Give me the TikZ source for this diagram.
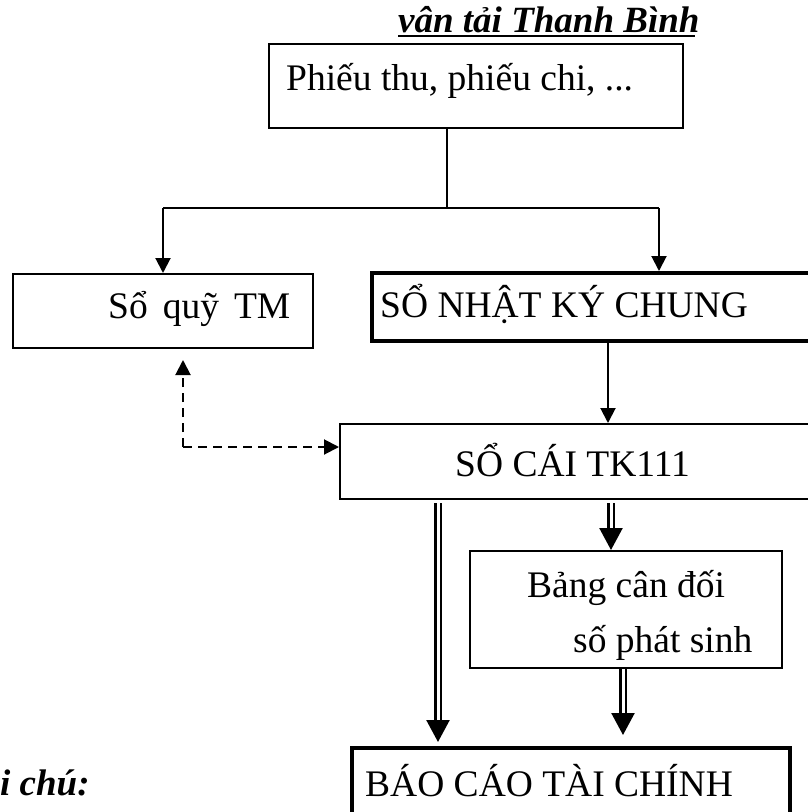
\documentclass[tikz,border=0pt]{standalone}
\usepackage{fontspec}
\setmainfont{Liberation Serif}
\usetikzlibrary{arrows.meta}
\begin{document}
\begin{tikzpicture}[x=1pt,y=-1pt,
  box/.style={draw,line width=2pt,inner sep=0pt,anchor=north west},
  thickbox/.style={box,line width=4pt},
  lbl/.style={anchor=base west,inner sep=0pt,font=\fontsize{37.5}{44}\selectfont},
  head/.style={anchor=base west,inner sep=0pt,font=\fontsize{37}{44}\selectfont\bfseries\itshape},
  conn/.style={line width=2pt},
  arr/.style={conn,-{Triangle[width=15pt,length=15pt]}},
  dasharr/.style={arr,dash pattern=on 9pt off 6pt},
  dbl/.style={line width=2.4pt,double,double distance=3pt,-{Triangle[width=23pt,length=22pt]}}]
\useasboundingbox (0,0) rectangle (808,812);
\clip (0,0) rectangle (808,812);

% heading above the chart
\node[head] (title) at (398,32) {vân tải Thanh Bình};
\draw[line width=2pt] (title.base west) ++(0,4) -- ++(297,0);

% boxes
\node[box,minimum width=414pt,minimum height=84pt] (pt) at (268,43) {};
\node[lbl] at (286,90) {Phiếu thu, phiếu chi, ...};

\node[box,minimum width=300pt,minimum height=74pt] (quy) at (12,273) {};
\node[lbl] at (108,318) {Sổ\hspace{15pt}quỹ\hspace{15pt}TM};

\node[thickbox,minimum width=460pt,minimum height=68pt] (nkc) at (370,271) {};
\node[lbl] at (380,317) {SỔ NHẬT KÝ CHUNG};

\node[box,minimum width=490pt,minimum height=75pt] (cai) at (339,423) {};
\node[lbl] at (455,476) {SỔ CÁI TK111};

\node[box,minimum width=312pt,minimum height=117pt] (bang) at (469,550) {};
\node[lbl] at (527,597) {Bảng cân đối};
\node[lbl] at (573,652) {số phát sinh};

\node[thickbox,minimum width=438pt,minimum height=90pt] (bctc) at (350,746) {};
\node[lbl] at (365,796) {BÁO CÁO TÀI CHÍNH};

\node[head] (note) at (0,795) {i chú:};

% split from the source documents
\coordinate (split) at (447,208);
\draw[conn] (pt.south -| split) -- (split);
\draw[conn] (163,208) -- (659,208);
\draw[arr] (163,208) -- (quy.north -| 163,0);
\draw[arr] (659,208) -- (nkc.north -| 659,0);

% journal to ledger
\draw[arr] (608,343) -- (cai.north -| 608,0);

% cash book and ledger cross-check
\coordinate (cross) at (183,447);
\draw[dasharr] (cross) -- (183,360);
\draw[dasharr] (cross) -- (cai.west |- cross);

% ledger to reports
\draw[dbl] (438,503) -- (438,742);
\draw[dbl] (611,503) -- (bang.north -| 611,0);
\draw[dbl] (623,669) -- (623,735);
\end{tikzpicture}
\end{document}
